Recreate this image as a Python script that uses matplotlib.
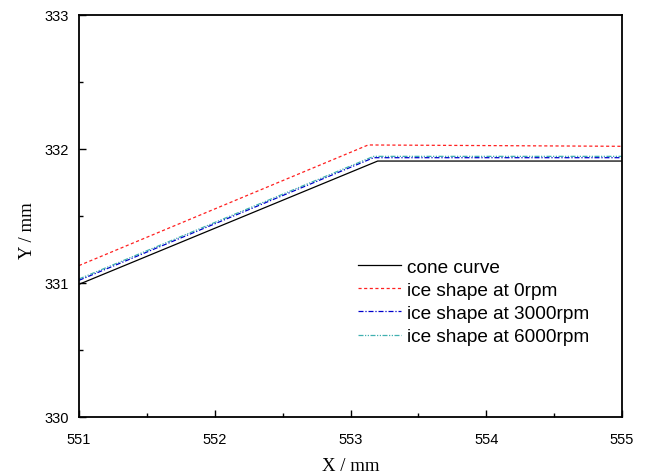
import matplotlib
matplotlib.use("Agg")
import matplotlib.pyplot as plt
from matplotlib.ticker import MultipleLocator

# Profile coordinates (X, Y in mm)
cone_x = [551.0, 553.2, 555.0]
cone_y = [330.99, 331.91, 331.91]

ice0_x = [551.0, 553.13, 555.0]
ice0_y = [331.13, 332.03, 332.02]

ice3000_x = [551.0, 553.17, 555.0]
ice3000_y = [331.02, 331.935, 331.935]

ice6000_x = [551.0, 553.17, 555.0]
ice6000_y = [331.03, 331.945, 331.945]

labels = ["cone curve", "ice shape at 0rpm", "ice shape at 3000rpm", "ice shape at 6000rpm"]

fig = plt.figure(figsize=(6.47, 4.77), dpi=100)
ax = fig.add_axes([0.1221, 0.1237, 0.8393, 0.8428])

ax.plot(cone_x, cone_y, color="black", lw=0.9, ls="-", label=labels[0])
ax.plot(ice0_x, ice0_y, color="#ff2020", lw=0.9, ls=(0, (2.5, 2.0)), label=labels[1])
ax.plot(ice3000_x, ice3000_y, color="#0000cc", lw=0.9, ls=(0, (4, 1.5, 1, 1.5)), label=labels[2])
ax.plot(ice6000_x, ice6000_y, color="#40b0b0", lw=0.9, ls=(0, (4, 1.2, 1, 1.2, 1, 1.2)), label=labels[3])

ax.set_xlim(551, 555)
ax.set_ylim(330, 333)
ax.xaxis.set_major_locator(MultipleLocator(1))
ax.xaxis.set_minor_locator(MultipleLocator(0.5))
ax.yaxis.set_major_locator(MultipleLocator(1))
ax.yaxis.set_minor_locator(MultipleLocator(0.5))

ax.tick_params(which="both", direction="in", top=False, right=False,
               labelsize=10.5, width=1.0)
ax.tick_params(which="major", length=5)
ax.tick_params(which="minor", length=3)
for lab in ax.get_xticklabels() + ax.get_yticklabels():
    lab.set_family("Liberation Sans")
ax.tick_params(axis="x", pad=11)
ax.tick_params(axis="y", pad=7)
for s in ax.spines.values():
    s.set_linewidth(1.3)

ax.set_xlabel("X / mm", family="Liberation Serif", fontsize=13.5, labelpad=8)
ax.set_ylabel("Y / mm", family="Liberation Serif", fontsize=13.5)
ax.yaxis.set_label_coords(-0.079, 0.465)

ax.legend(loc="upper left", bbox_to_anchor=(0.514, 0.395), frameon=False,
          prop={"family": "Liberation Sans", "size": 13.7},
          handlelength=2.25, handletextpad=0.3, labelspacing=0.31,
          borderaxespad=0, borderpad=0)

fig.savefig("out.png", dpi=100)
